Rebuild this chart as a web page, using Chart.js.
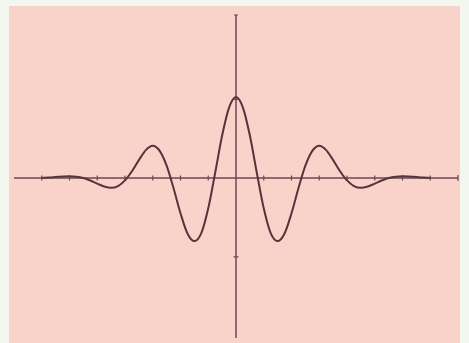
<!DOCTYPE html>
<html><head><meta charset="utf-8">
<style>
html,body{margin:0;padding:0;background:#f4f6f0;overflow:hidden;}
#wrap{position:relative;width:469px;height:343px;}
#bg{position:absolute;left:9px;top:6px;width:451px;height:337px;background:#f9d3ca;}
canvas{position:absolute;left:0;top:0;}
</style>
<script src="https://cdn.jsdelivr.net/npm/chart.js@4.4.0/dist/chart.umd.min.js"></script>
</head><body>
<div id="wrap"><div id="bg"></div><canvas id="c" width="469" height="343"></canvas></div>
<script>
const xValues = [-7,-6.75,-6.5,-6.25,-6,-5.75,-5.5,-5.25,-5,-4.75,-4.5,-4.25,-4,-3.75,-3.5,-3.25,-3,-2.75,-2.5,-2.25,-2,-1.75,-1.5,-1.25,-1,-0.75,-0.5,-0.25,0,
  0.25,0.5,0.75,1,1.25,1.5,1.75,2,2.25,2.5,2.75,3,3.25,3.5,3.75,4,4.25,4.5,4.75,5,5.25,5.5,5.75,6,6.25,6.5,6.75,7];
const yValues = [0.001,0.006,0.013,0.02,0.024,0.018,0,-0.031,-0.07,-0.107,-0.123,-0.101,-0.03,0.087,0.228,0.355,0.41,0.345,0.157,-0.13,-0.447,-0.703,-0.8,-0.699,-0.384,0.068,0.54,0.895,1.03,
  0.895,0.54,0.068,-0.384,-0.699,-0.8,-0.703,-0.447,-0.13,0.157,0.345,0.41,0.355,0.228,0.087,-0.03,-0.101,-0.123,-0.107,-0.07,-0.031,0,0.018,0.024,0.02,0.013,0.006,0.001];
const xTicks = [-7,-6,-5,-4,-3,-2,-1,1,2,3,4,5,6,7];
const yTicks = [-1,1];
const xRange = [-8,8];
const yRange = [-2.03,2.07];

const axisColor = '#6b4a50';
const curveColor = '#56343c';

const axesPlugin = {
  id:'axes',
  beforeDatasetsDraw(chart){
    const {ctx, scales:{x,y}} = chart;
    const x0 = x.getPixelForValue(0), y0 = y.getPixelForValue(0);
    ctx.save();
    ctx.strokeStyle = axisColor;
    ctx.lineWidth = 1.5;
    ctx.beginPath();
    ctx.moveTo(x.getPixelForValue(xRange[0]), y0);
    ctx.lineTo(x.getPixelForValue(xRange[1]), y0);
    ctx.moveTo(x0, y.getPixelForValue(yRange[1]));
    ctx.lineTo(x0, y.getPixelForValue(yRange[0]));
    ctx.stroke();
    ctx.lineWidth = 1.2;
    ctx.beginPath();
    xTicks.forEach(v=>{const p=x.getPixelForValue(v); ctx.moveTo(p,y0-2.5); ctx.lineTo(p,y0+2.5);});
    const pr = x.getPixelForValue(xRange[1]);
    ctx.moveTo(pr,y0-3); ctx.lineTo(pr,y0+3);
    yTicks.forEach(v=>{const p=y.getPixelForValue(v); ctx.moveTo(x0-2.5,p); ctx.lineTo(x0+2.5,p);});
    const pt = y.getPixelForValue(yRange[1]);
    ctx.moveTo(x0-2,pt); ctx.lineTo(x0+2,pt);
    ctx.stroke();
    ctx.restore();
  }
};

new Chart(document.getElementById('c'), {
  type:'line',
  data:{datasets:[{
    data: xValues.map((v,i)=>({x:v,y:yValues[i]})),
    borderColor: curveColor,
    borderWidth: 2,
    pointRadius: 0,
    fill: false,
    cubicInterpolationMode: 'monotone'
  }]},
  options:{
    responsive:false,
    animation:false,
    devicePixelRatio:1,
    layout:{padding:{left:14,right:11,top:15,bottom:5}},
    plugins:{legend:{display:false},tooltip:{enabled:false}},
    scales:{
      x:{type:'linear',min:xRange[0],max:xRange[1],display:false},
      y:{type:'linear',min:yRange[0],max:yRange[1],display:false}
    }
  },
  plugins:[axesPlugin]
});
</script>
</body></html>
